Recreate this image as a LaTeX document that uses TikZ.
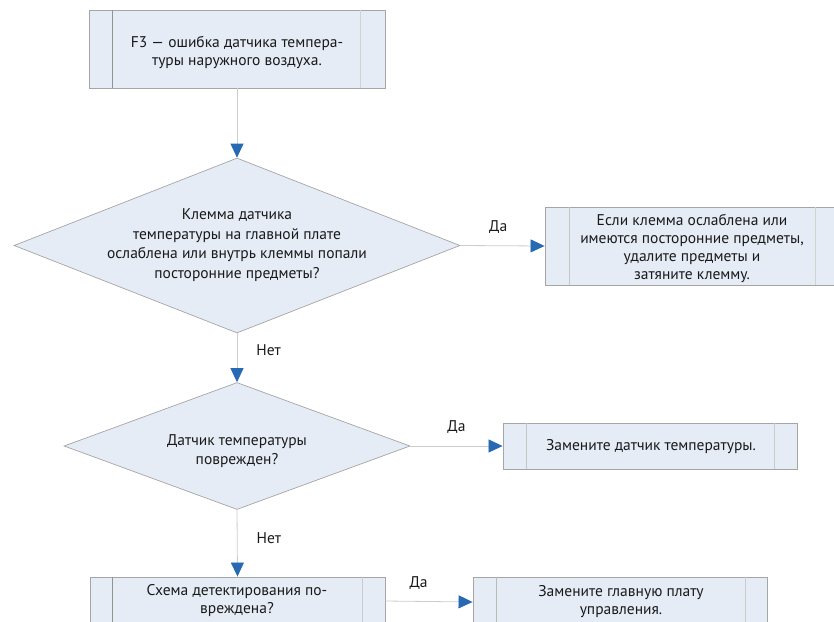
\documentclass[tikz,border=0pt]{standalone}
\usepackage{fontspec}
\setmainfont{PT Sans}
\usetikzlibrary{shapes.geometric,arrows.meta,calc}
\definecolor{boxfill}{RGB}{230,236,246}
\definecolor{boxline}{RGB}{165,165,165}
\definecolor{innerline}{RGB}{150,150,150}
\definecolor{conline}{RGB}{205,205,205}
\definecolor{tipblue}{RGB}{40,105,180}
\definecolor{txt}{RGB}{25,25,25}
\tikzset{
  procbox/.style={draw=boxline, fill=boxfill, line width=0.9pt, rectangle, inner sep=0pt},
  decision/.style={draw=boxline, fill=boxfill, line width=0.7pt, diamond, inner sep=0pt},
  txtnode/.style={font=\fontsize{15.5}{18}\selectfont, text=txt, align=center, inner sep=0pt},
  dtxt/.style={font=\fontsize{15.5}{19.5}\selectfont, text=txt, align=center, inner sep=0pt},
  lbl/.style={font=\fontsize{15.5}{17}\selectfont, text=txt, inner sep=0pt},
  inner/.style={draw=innerline, line width=0.8pt},
  conn/.style={draw=conline, line width=0.8pt, -{Triangle[length=14pt,width=13pt,color=tipblue,fill=tipblue]}}
}
\begin{document}
\begin{tikzpicture}[x=1pt,y=-1pt]
\useasboundingbox (0,0) rectangle (834,621);
\clip (0,0) rectangle (834,621);
% boxes
\node[procbox, minimum width=296pt, minimum height=78pt] (b1) at (237,49) {};
\node[decision, minimum width=446pt, minimum height=175pt] (d1) at (237,245.5) {};
\node[procbox, minimum width=300pt, minimum height=78pt] (b2) at (695,246) {};
\node[decision, minimum width=346pt, minimum height=127pt] (d2) at (237,446) {};
\node[procbox, minimum width=294pt, minimum height=46pt] (b3) at (650,446) {};
\node[procbox, minimum width=295pt, minimum height=80pt] (b4) at (237.5,617) {};
\node[procbox, minimum width=294pt, minimum height=80pt] (b5) at (620,617) {};
% inner lines of process boxes
\draw[inner, draw=gray!85] ($(b1.north west)+(24,0)$) -- ($(b1.south west)+(24,0)$);
\draw[inner, draw=gray!35] ($(b1.north east)+(-25,0)$) -- ($(b1.south east)+(-25,0)$);
\draw[inner, draw=gray!45] ($(b2.north west)+(25,0)$) -- ($(b2.south west)+(25,0)$);
\draw[inner, draw=gray!35] (815,207) -- (815,285);
\draw[inner, draw=gray!45] ($(b3.north west)+(24,0)$) -- ($(b3.south west)+(24,0)$);
\draw[inner, draw=gray!40] ($(b3.north east)+(-23,0)$) -- ($(b3.south east)+(-23,0)$);
\draw[inner, draw=gray!85] ($(b4.north west)+(23,0)$) -- ($(b4.south west)+(23,0)$);
\draw[inner, draw=gray!40] ($(b4.north east)+(-23,0)$) -- ($(b4.south east)+(-23,0)$);
\draw[inner, draw=gray!55] ($(b5.north west)+(24,0)$) -- ($(b5.south west)+(24,0)$);
\draw[inner, draw=gray!40] ($(b5.north east)+(-22,0)$) -- ($(b5.south east)+(-22,0)$);
% texts
\node[txtnode] (b1t) at (237,52) {F3 — ошибка датчика темпера-\\туры наружного воздуха.};
\node[dtxt] (d1t) at (237,245) {Клемма датчика\\температуры на главной плате\\ослаблена или внутрь клеммы попали\\посторонние предметы?};
\node[txtnode] (b2t) at (692,248) {Если клемма ослаблена или\\имеются посторонние предметы,\\удалите предметы и\\затяните клемму.};
\node[dtxt] (d2t) at (237,451) {Датчик температуры\\поврежден?};
\node[txtnode] (b3t) at (651,447) {Замените датчик температуры.};
\node[txtnode] (b4t) at (237,601) {Схема детектирования по-\\вреждена?};
\node[txtnode] (b5t) at (621,602) {Замените главную плату\\управления.};
% connectors
\draw[conn] (b1.south) -- (d1.north);
\draw[conn] (d1.east) -- node[lbl, pos=0.45, above=12pt] (l1) {Да} (b2.west);
\draw[conn] (d1.south) -- node[lbl, pos=0.35, right=19pt] (l2) {Нет} (d2.north);
\draw[conn] (d2.east) -- node[lbl, pos=0.5, above=12pt] (l3) {Да} (b3.west);
\draw[conn] (d2.south) -- node[lbl, pos=0.43, right=19pt] (l4) {Нет} (b4.north);
\draw[conn] (b4t -| b4.east) -- node[lbl, pos=0.38, above=11pt] (l5) {Да} (b5t -| b5.west);
\end{tikzpicture}
\end{document}
